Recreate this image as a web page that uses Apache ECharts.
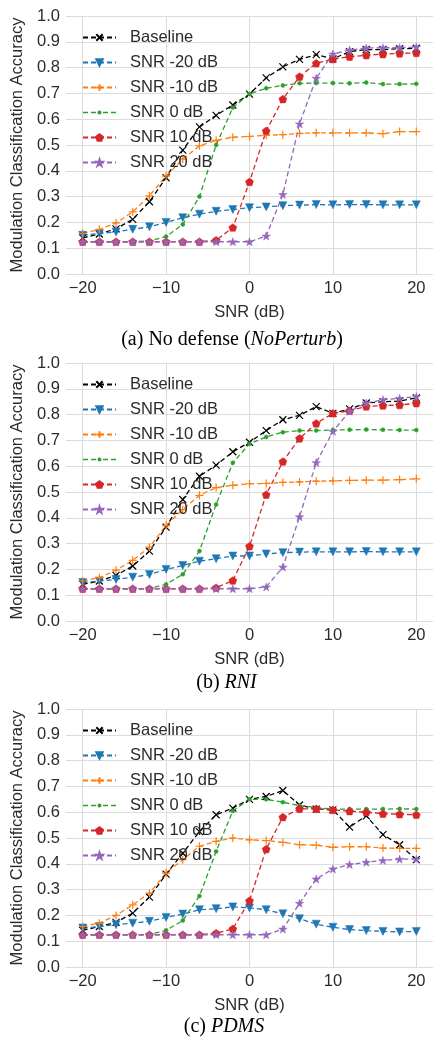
<!DOCTYPE html>
<html>
<head>
<meta charset="utf-8">
<script src="https://cdn.jsdelivr.net/npm/echarts@6/dist/echarts.min.js"></script>
<style>
  html, body { margin: 0; padding: 0; background: #fff; }
  #chart { width: 433px; height: 1042px; }
</style>
</head>
<body>
<div id="chart"></div>
<script>
// Test-time SNR (dB)
const SNR_DB = [-20, -18, -16, -14, -12, -10, -8, -6, -4, -2, 0, 2, 4, 6, 8, 10, 12, 14, 16, 18, 20];
const X_TICKS = [-20, -10, 0, 10, 20];
const SERIES_NAMES = ['Baseline', 'SNR -20 dB', 'SNR -10 dB', 'SNR 0 dB', 'SNR 10 dB', 'SNR 20 dB'];
const CAPTIONS = ['(a) No defense ({i|NoPerturb})', '(b) {i|RNI}', '(c) {i|PDMS}'];

// (a) No defense
const NOPERTURB_BASELINE = [0.14, 0.155, 0.175, 0.212, 0.28, 0.373, 0.48, 0.57, 0.615, 0.655, 0.697, 0.76, 0.803, 0.832, 0.85, 0.834, 0.862, 0.87, 0.87, 0.873, 0.875];
const NOPERTURB_M20 = [0.15, 0.157, 0.163, 0.173, 0.183, 0.2, 0.218, 0.232, 0.243, 0.25, 0.257, 0.26, 0.265, 0.267, 0.269, 0.268, 0.269, 0.269, 0.268, 0.268, 0.268];
const NOPERTURB_M10 = [0.157, 0.173, 0.198, 0.241, 0.303, 0.38, 0.445, 0.497, 0.518, 0.53, 0.533, 0.538, 0.54, 0.545, 0.547, 0.547, 0.547, 0.547, 0.544, 0.552, 0.552];
const NOPERTURB_0 = [0.125, 0.125, 0.125, 0.125, 0.128, 0.145, 0.192, 0.3, 0.5, 0.645, 0.698, 0.72, 0.731, 0.739, 0.74, 0.74, 0.739, 0.742, 0.736, 0.736, 0.737];
const NOPERTURB_10 = [0.125, 0.125, 0.125, 0.125, 0.125, 0.125, 0.125, 0.125, 0.131, 0.18, 0.357, 0.555, 0.678, 0.765, 0.817, 0.833, 0.842, 0.848, 0.852, 0.855, 0.857];
const NOPERTURB_20 = [0.125, 0.125, 0.125, 0.125, 0.125, 0.125, 0.125, 0.125, 0.125, 0.125, 0.125, 0.147, 0.308, 0.582, 0.759, 0.853, 0.868, 0.876, 0.877, 0.877, 0.88];

// (b) RNI
const RNI_BASELINE = [0.142, 0.155, 0.177, 0.213, 0.271, 0.364, 0.471, 0.561, 0.604, 0.656, 0.693, 0.738, 0.78, 0.797, 0.831, 0.805, 0.822, 0.845, 0.85, 0.852, 0.865];
const RNI_M20 = [0.149, 0.155, 0.161, 0.17, 0.18, 0.2, 0.215, 0.232, 0.241, 0.252, 0.252, 0.26, 0.265, 0.267, 0.268, 0.268, 0.268, 0.269, 0.268, 0.268, 0.268];
const RNI_M10 = [0.155, 0.168, 0.197, 0.235, 0.286, 0.37, 0.432, 0.487, 0.517, 0.526, 0.532, 0.533, 0.537, 0.539, 0.542, 0.543, 0.545, 0.546, 0.546, 0.548, 0.551];
const RNI_0 = [0.125, 0.125, 0.125, 0.125, 0.126, 0.142, 0.181, 0.271, 0.452, 0.613, 0.687, 0.713, 0.732, 0.738, 0.738, 0.74, 0.741, 0.742, 0.741, 0.74, 0.74];
const RNI_10 = [0.125, 0.125, 0.125, 0.125, 0.125, 0.125, 0.125, 0.125, 0.129, 0.157, 0.29, 0.49, 0.618, 0.708, 0.766, 0.805, 0.815, 0.832, 0.835, 0.837, 0.844];
const RNI_20 = [0.125, 0.125, 0.125, 0.125, 0.125, 0.125, 0.125, 0.125, 0.125, 0.125, 0.125, 0.132, 0.209, 0.404, 0.614, 0.735, 0.813, 0.845, 0.858, 0.863, 0.87];

// (c) PDMS
const PDMS_BASELINE = [0.142, 0.157, 0.173, 0.209, 0.271, 0.36, 0.441, 0.525, 0.59, 0.616, 0.65, 0.661, 0.684, 0.628, 0.612, 0.609, 0.542, 0.586, 0.513, 0.474, 0.416];
const PDMS_M20 = [0.151, 0.157, 0.164, 0.17, 0.177, 0.192, 0.205, 0.222, 0.226, 0.233, 0.229, 0.222, 0.206, 0.187, 0.166, 0.154, 0.145, 0.141, 0.138, 0.136, 0.138];
const PDMS_M10 = [0.157, 0.17, 0.2, 0.241, 0.286, 0.364, 0.416, 0.468, 0.487, 0.5, 0.493, 0.49, 0.483, 0.474, 0.472, 0.464, 0.466, 0.466, 0.461, 0.46, 0.46];
const PDMS_0 = [0.125, 0.125, 0.125, 0.125, 0.126, 0.142, 0.18, 0.275, 0.448, 0.605, 0.65, 0.65, 0.639, 0.625, 0.618, 0.612, 0.612, 0.612, 0.612, 0.613, 0.612];
const PDMS_10 = [0.125, 0.125, 0.125, 0.125, 0.125, 0.125, 0.125, 0.125, 0.131, 0.148, 0.257, 0.457, 0.581, 0.613, 0.613, 0.609, 0.604, 0.6, 0.594, 0.592, 0.59];
const PDMS_20 = [0.125, 0.125, 0.125, 0.125, 0.125, 0.125, 0.125, 0.125, 0.125, 0.125, 0.125, 0.125, 0.147, 0.247, 0.341, 0.38, 0.397, 0.406, 0.413, 0.418, 0.418];

const PANELS = [
  [NOPERTURB_BASELINE, NOPERTURB_M20, NOPERTURB_M10, NOPERTURB_0, NOPERTURB_10, NOPERTURB_20],
  [RNI_BASELINE, RNI_M20, RNI_M10, RNI_0, RNI_10, RNI_20],
  [PDMS_BASELINE, PDMS_M20, PDMS_M10, PDMS_0, PDMS_10, PDMS_20]
];

// marker shapes, matplotlib-like
const SYM_X = 'path://M0,0L10,10M10,0L0,10';
const SYM_PLUS = 'path://M5,0L5,10M0,5L10,5';
const SYM_PENTAGON = 'path://M50,0L97.55,34.55L79.39,90.45L20.61,90.45L2.45,34.55Z';
const SYM_STAR = 'path://M50,0L61.2,34.5L97.6,34.5L68.2,55.9L79.4,90.5L50,69.1L20.6,90.5L31.8,55.9L2.4,34.5L38.8,34.5Z';
// legend glyph for the small-dot series: dashed segment with a small dot, 33 x 8 box
const LEGEND_DOT_ICON = 'path://M0,0h0.01v0.01h-0.01Z M33,8h-0.01v-0.01h0.01Z ' +
  'M0,3.35h5v1.3h-5Z M8,3.35h5v1.3h-5Z M20,3.35h5v1.3h-5Z M28,3.35h5v1.3h-5Z ' +
  'M14.5,4a2,2 0 1,0 4,0a2,2 0 1,0 -4,0Z';

const STYLES = [
  { color: '#000000', symbol: SYM_X, size: 7, stroke: true },
  { color: '#1f77b4', symbol: 'triangle', size: 8, rotate: 180 },
  { color: '#ff7f0e', symbol: SYM_PLUS, size: 8, stroke: true },
  { color: '#2ca02c', symbol: 'circle', size: 4 },
  { color: '#d62728', symbol: SYM_PENTAGON, size: 8 },
  { color: '#9467bd', symbol: SYM_STAR, size: 8.5 }
];

const GRID_TOPS = [16, 363, 709];
const GRID_H = 258;
const CAPTION_X = [232, 226.5, 224];
const CAPTION_Y = [340, 683, 1027];
const GRID_COLOR = '#dcdcdc';
const TEXT_COLOR = '#2b2b2b';
const SANS = 'Liberation Sans, Arial, sans-serif';
const FS = 16.5;

const grids = [], xAxes = [], yAxes = [], series = [], legends = [], graphics = [];

PANELS.forEach((panel, p) => {
  grids.push({ left: 66, width: 372, top: GRID_TOPS[p], height: GRID_H, containLabel: false });
  xAxes.push({
    type: 'value', gridIndex: p, min: -22, max: 22,
    name: 'SNR (dB)', nameLocation: 'middle', nameGap: 30,
    nameTextStyle: { fontFamily: SANS, fontSize: FS, color: TEXT_COLOR },
    axisLine: { show: true, lineStyle: { color: GRID_COLOR, width: 1 } },
    axisTick: { show: false, customValues: X_TICKS },
    axisLabel: {
      customValues: X_TICKS, margin: 6,
      fontFamily: SANS, fontSize: FS, color: TEXT_COLOR,
      formatter: v => (v < 0 ? '\u2212' + Math.abs(v) : String(v))
    },
    splitLine: { show: true, lineStyle: { color: GRID_COLOR, width: 1 } }
  });
  yAxes.push({
    type: 'value', gridIndex: p, min: 0, max: 1, interval: 0.1,
    name: 'Modulation Classification Accuracy', nameLocation: 'middle', nameGap: 34,
    nameTextStyle: { fontFamily: SANS, fontSize: FS, color: TEXT_COLOR },
    axisLine: { show: true, lineStyle: { color: GRID_COLOR, width: 1 } },
    axisTick: { show: false },
    axisLabel: { margin: 6, fontFamily: SANS, fontSize: FS, color: TEXT_COLOR, formatter: v => v.toFixed(1) },
    splitLine: { show: true, lineStyle: { color: GRID_COLOR, width: 1 } }
  });
  panel.forEach((vals, k) => {
    const st = STYLES[k];
    series.push({
      type: 'line', name: SERIES_NAMES[k], xAxisIndex: p, yAxisIndex: p,
      data: SNR_DB.map((x, i) => [x, vals[i]]),
      symbol: st.symbol, symbolSize: st.size, symbolRotate: st.rotate || 0, symbolKeepAspect: true,
      showSymbol: true, showAllSymbol: true,
      lineStyle: { color: st.color, width: 1.3, type: [5, 3] },
      itemStyle: st.stroke
        ? { color: st.color, borderColor: st.color, borderWidth: 1.2 }
        : { color: st.color, borderColor: st.color, borderWidth: 0.5 },
      emphasis: { disabled: true },
      animation: false
    });
  });
  legends.push({
    data: SERIES_NAMES.map((n, k) => (k === 3
      ? { name: n, icon: LEGEND_DOT_ICON, itemStyle: { color: STYLES[3].color, borderWidth: 0 } }
      : { name: n })),
    orient: 'vertical', left: 82, top: GRID_TOPS[p] + 13,
    itemWidth: 33, itemHeight: 8, itemGap: 8,
    backgroundColor: 'transparent', borderWidth: 0, padding: 0,
    textStyle: { fontFamily: SANS, fontSize: FS, color: TEXT_COLOR, lineHeight: 16, padding: [0, 0, 0, 9] },
    selectedMode: false
  });
  graphics.push({
    type: 'text', x: CAPTION_X[p], y: CAPTION_Y[p],
    style: {
      text: CAPTIONS[p], textAlign: 'center', textVerticalAlign: 'middle',
      font: '20px "Liberation Serif", "Times New Roman", serif', fill: '#000',
      rich: { i: { fontStyle: 'italic', fontFamily: 'Liberation Serif', fontSize: 20 } }
    }
  });
});

const chart = echarts.init(document.getElementById('chart'), null, { renderer: 'canvas' });
chart.setOption({
  backgroundColor: '#ffffff',
  animation: false,
  grid: grids, xAxis: xAxes, yAxis: yAxes, legend: legends, series: series,
  graphic: graphics
});
</script>
</body>
</html>
